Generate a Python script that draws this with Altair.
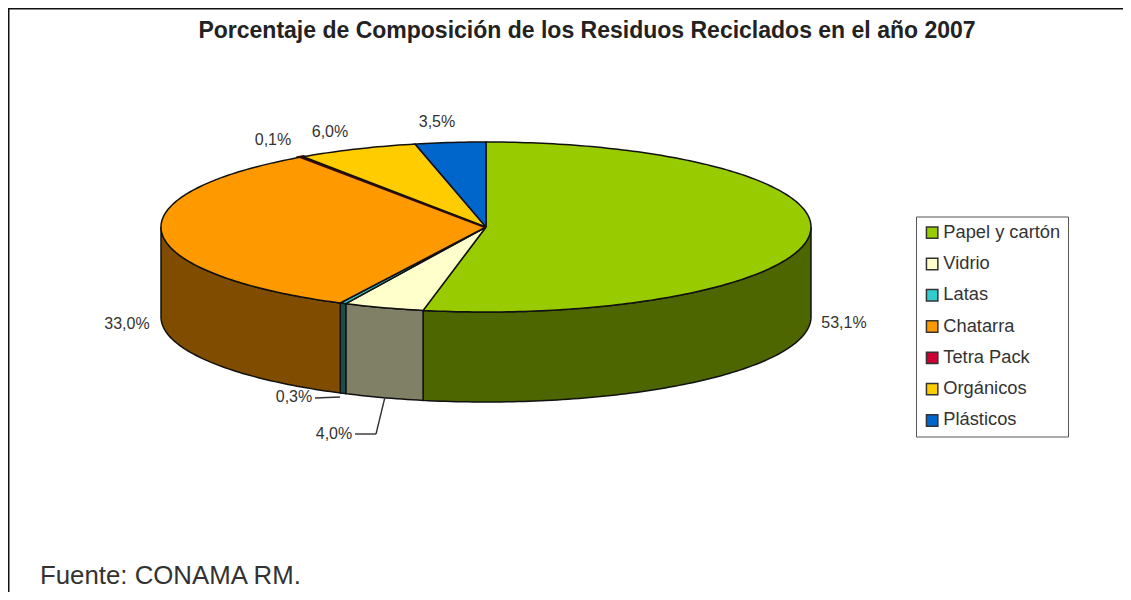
import altair as alt
import numpy as np
import pandas as pd

TITLE = "Porcentaje de Composición de los Residuos Reciclados en el año 2007"
SOURCE = "Fuente: CONAMA RM."
categories = ["Papel y cartón", "Vidrio", "Latas", "Chatarra", "Tetra Pack", "Orgánicos", "Plásticos"]
values = [53.1, 4.0, 0.3, 33.0, 0.1, 6.0, 3.5]
top_colors = ["#99CC00", "#FFFFCC", "#33CCCC", "#FF9900", "#CC0033", "#FFCC00", "#0066CC"]
wall_colors = ["#4D6600", "#808066", "#1A4D4D", "#804D00", "#660019", "#806600", "#003366"]

# layout (page pixels)
W, H = 1115, 584
OFF = 8
CX, CY, RX, RY, DEPTH = 486, 227, 325, 85, 90
LABEL_AT = [(844, 323), (334, 434), (294, 397), (127, 324), (273, 140), (330, 132), (437, 122)]

# pie geometry derived from the values
shares = np.array(values) / sum(values) * 360.0
ends = np.cumsum(shares)
starts = ends - shares
d = DEPTH / RY
top_rows, wall_rows = [], []
for k, name in enumerate(categories):
    a, b = starts[k], ends[k]
    th = np.radians(np.linspace(a, b, max(int(b - a) + 2, 2)))
    pts = [(0.0, 0.0)] + list(zip(np.sin(th), np.cos(th))) + [(0.0, 0.0)]
    edge = "#3A0A00" if name == "Tetra Pack" else "#111111"
    sw = 3.2 if name == "Tetra Pack" else 1.5
    for i, (x, y) in enumerate(pts):
        top_rows.append(dict(name=name, i=i, x=x, y=y, edge=edge, sw=sw))
    lo, hi = max(a, 90.0), min(b, 270.0)
    if hi > lo:
        th = np.radians(np.linspace(lo, hi, max(int(hi - lo) + 2, 2)))
        up = list(zip(np.sin(th), np.cos(th)))
        down = [(x, y - d) for x, y in reversed(up)]
        ring = up + down + [up[0]]
        for i, (x, y) in enumerate(ring):
            wall_rows.append(dict(name=name, i=i, x=x, y=y, wall=wall_colors[k]))

tops = pd.DataFrame(top_rows)
walls = pd.DataFrame(wall_rows)

xs = alt.Scale(domain=[(OFF - CX) / RX, (OFF + W - CX) / RX], nice=False, zero=False)
ys = alt.Scale(domain=[(CY - OFF - H) / RY, (CY - OFF) / RY], nice=False, zero=False)
X = alt.X("x:Q", scale=xs, axis=None)
Y = alt.Y("y:Q", scale=ys, axis=None)

wall_layer = alt.Chart(walls).mark_line(stroke="#111111", strokeWidth=1.5).encode(
    x=X, y=Y, order=alt.Order("i:Q"), detail="name:N",
    fill=alt.Fill("wall:N", scale=None, legend=None),
)

top_layer = alt.Chart(tops).mark_line().encode(
    x=X, y=Y, order=alt.Order("i:Q"), detail="name:N",
    stroke=alt.Stroke("edge:N", scale=None, legend=None),
    strokeWidth=alt.StrokeWidth("sw:Q", scale=None, legend=None),
    fill=alt.Fill(
        "name:N",
        scale=alt.Scale(domain=categories, range=top_colors),
        legend=alt.Legend(
            title=None, orient="none", legendX=916 - OFF, legendY=216.5 - OFF,
            strokeColor="#555555", padding=7, symbolType="square", symbolSize=130,
            symbolStrokeColor="#333333", symbolStrokeWidth=1.5, symbolOpacity=1,
            labelFont="Liberation Sans", labelFontSize=18.3, labelColor="#333333",
            labelOffset=2, rowPadding=12.3, labelLimit=200,
        ),
    ),
)

labels = pd.DataFrame({
    "text": [f"{v:.1f}%".replace(".", ",") for v in values],
    "px": [p[0] - OFF for p in LABEL_AT],
    "py": [p[1] - OFF for p in LABEL_AT],
})
label_layer = alt.Chart(labels).mark_text(
    font="Liberation Sans", fontSize=16, color="#333333", baseline="middle", align="center"
).encode(x=alt.X("px:Q", scale=None), y=alt.Y("py:Q", scale=None), text="text:N")


def rule(x0, y0, x1, y1, color="#333333", width=1.4):
    return alt.Chart(pd.DataFrame({"a": [0]})).mark_rule(color=color, strokeWidth=width).encode(
        x=alt.value(x0 - OFF), y=alt.value(y0 - OFF), x2=alt.value(x1 - OFF), y2=alt.value(y1 - OFF)
    )


leaders = [
    rule(315, 398, 340, 397),
    rule(355, 434, 376, 434),
    rule(376, 434, 385, 397),
]
frame = [
    rule(OFF, OFF + 0.5, OFF + W, OFF + 0.5, "#111111", 2),
    rule(OFF + 0.5, OFF, OFF + 0.5, OFF + H, "#111111", 2),
]

source = alt.Chart(pd.DataFrame({"t": [SOURCE]})).mark_text(
    font="Liberation Sans", fontSize=25.8, color="#333333", align="left", baseline="middle"
).encode(x=alt.value(40 - OFF), y=alt.value(576 - OFF), text="t:N")

chart = alt.layer(
    wall_layer, top_layer, label_layer, *leaders, *frame, source
).resolve_scale(fill="independent", stroke="independent").properties(
    width=W, height=H, padding=0,
    autosize=alt.AutoSizeParams(type="none"),
    background="white",
    title=alt.TitleParams(
        TITLE, font="Liberation Sans", fontSize=23, fontWeight="bold", color="#222222",
        anchor="middle", frame="group", dx=587 - OFF - W / 2, offset=-36,
    ),
).configure_view(stroke=None)

chart.save("out.html", embed_options={"renderer": "svg", "actions": False})
